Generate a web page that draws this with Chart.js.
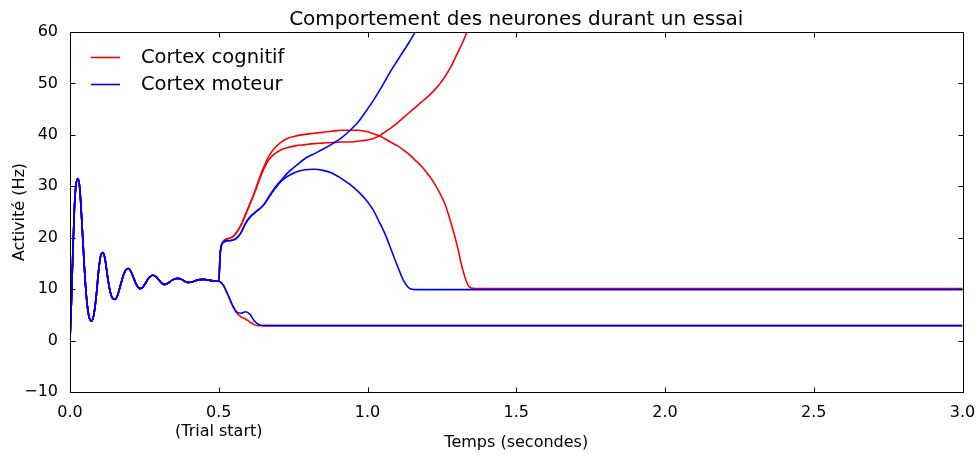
<!DOCTYPE html>
<html>
<head>
<meta charset="utf-8">
<script src="https://cdn.jsdelivr.net/npm/chart.js@4"></script>
<style>
  html, body { margin: 0; padding: 0; background: #fff; }
</style>
</head>
<body>
<canvas id="myChart" width="979" height="455"></canvas>
<script>
  const FONT = '"DejaVu Sans", sans-serif';

  // Before the trial starts every neuron follows the same damped oscillation
  const tPre = [0, 0.005, 0.01, 0.015, 0.02, 0.027, 0.033, 0.04, 0.048, 0.056,
    0.064, 0.072, 0.08, 0.088, 0.096, 0.104, 0.111, 0.118, 0.126, 0.134,
    0.142, 0.152, 0.16, 0.17, 0.18, 0.19, 0.197, 0.205, 0.215, 0.225,
    0.235, 0.245, 0.255, 0.265, 0.278, 0.29, 0.3, 0.31, 0.32, 0.33,
    0.345, 0.36, 0.375, 0.39, 0.4, 0.415, 0.43, 0.45, 0.47, 0.49];
  const vPre = [0, 8, 18, 26, 30.2, 31.5, 29.5, 23, 14.5, 8,
    4.6, 3.8, 5.0, 8.5, 13.5, 16.7, 17.1, 15.8, 12.5, 9.8,
    8.3, 8.0, 8.8, 10.8, 12.8, 13.9, 14.0, 13.4, 12.0, 10.7,
    10.1, 10.4, 11.3, 12.2, 12.7, 12.4, 11.7, 11.1, 10.9, 11.2,
    11.8, 12.1, 11.9, 11.4, 11.3, 11.5, 11.8, 11.9, 11.7, 11.6];

  // After trial start (0.5 s)
  const tPost = [0.5, 0.505, 0.515, 0.53, 0.545, 0.56, 0.575, 0.59, 0.605, 0.62,
    0.635, 0.65, 0.67, 0.69, 0.71, 0.73, 0.76, 0.79, 0.82, 0.85,
    0.88, 0.91, 0.94, 0.97, 1.0, 1.02, 1.04, 1.06, 1.08, 1.1,
    1.12, 1.14, 1.16, 1.18, 1.2, 1.22, 1.24, 1.26, 1.28, 1.3,
    1.32, 1.34, 1.36, 1.4, 3.0];

  const cogHigh = [11.6, 17.0, 19.2, 19.8, 20.1, 21.0, 22.5, 24.5, 26.6, 28.7,
    31.0, 33.2, 35.3, 36.4, 37.1, 37.5, 37.9, 38.1, 38.3, 38.4,
    38.5, 38.6, 38.6, 38.8, 39.0, 39.3, 39.8, 40.6, 41.4, 42.3,
    43.3, 44.3, 45.3, 46.3, 47.3, 48.4, 49.7, 51.3, 53.2, 55.6,
    58.0, 61.0, 66.0, null, null];
  const cogMid = [11.6, 17.0, 19.2, 19.8, 20.1, 21.0, 22.5, 24.5, 26.6, 28.8,
    31.3, 33.6, 36.0, 37.6, 38.6, 39.3, 39.8, 40.1, 40.3, 40.5,
    40.7, 40.9, 40.9, 40.9, 40.6, 40.2, 39.8, 39.2, 38.5, 37.9,
    37.1, 36.2, 35.1, 34.0, 32.6, 31.0, 29.0, 26.6, 23.0, 18.8,
    13.8, 10.6, 10.1, 10.1, 10.1];
  const cogLow = [11.6, 11.4, 10.8, 9.0, 7.0, 5.4, 4.6, 4.2, 3.6, 3.1,
    2.9, 2.9, 2.9, 2.9, 2.9, 2.9, 2.9, 2.9, 2.9, 2.9,
    2.9, 2.9, 2.9, 2.9, 2.9, 2.9, 2.9, 2.9, 2.9, 2.9,
    2.9, 2.9, 2.9, 2.9, 2.9, 2.9, 2.9, 2.9, 2.9, 2.9,
    2.9, 2.9, 2.9, 2.9, 2.9];

  const motHigh = [11.6, 17.0, 19.1, 19.4, 19.5, 19.9, 21.0, 22.8, 24.0, 24.8,
    25.5, 26.3, 28.1, 29.8, 31.2, 32.5, 34.0, 35.4, 36.3, 37.2,
    38.2, 39.3, 40.8, 42.6, 45.0, 46.7, 48.6, 50.6, 52.6, 54.4,
    56.2, 58.0, 60.0, 62.5, 65.0, null, null, null, null, null,
    null, null, null, null, null];
  const motMid = [11.6, 17.0, 19.1, 19.4, 19.5, 19.9, 21.0, 22.8, 24.0, 24.8,
    25.5, 26.3, 28.0, 29.6, 31.0, 31.9, 32.8, 33.2, 33.3, 33.1,
    32.6, 31.6, 30.4, 28.9, 27.0, 25.3, 23.0, 20.6, 17.6, 14.6,
    11.8, 10.2, 9.9, 9.9, 9.9, 9.9, 9.9, 9.9, 9.9, 9.9,
    9.9, 9.9, 9.9, 9.9, 9.9];
  const motLow = [11.6, 11.4, 10.8, 9.0, 7.0, 5.6, 5.3, 5.6, 5.1, 3.8,
    3.1, 2.9, 2.9, 2.9, 2.9, 2.9, 2.9, 2.9, 2.9, 2.9,
    2.9, 2.9, 2.9, 2.9, 2.9, 2.9, 2.9, 2.9, 2.9, 2.9,
    2.9, 2.9, 2.9, 2.9, 2.9, 2.9, 2.9, 2.9, 2.9, 2.9,
    2.9, 2.9, 2.9, 2.9, 2.9];

  const chartTitle = "Comportement des neurones durant un essai";
  const legendLabels = ["Cortex cognitif", "Cortex moteur"];
  const trialStart = 0.5;

  function series(values) {
    const pre = tPre.map((x, i) => ({ x: x, y: vPre[i] }));
    const post = tPost.map((x, i) => ({ x: x, y: values[i] }));
    return pre.concat(post);
  }

  function line(values, color) {
    return {
      data: series(values),
      borderColor: color,
      borderWidth: 1.6,
      pointRadius: 0,
      fill: false,
      cubicInterpolationMode: "monotone",
    };
  }

  // Box around the plot with inward ticks on every side, title over the plot
  // area and the legend inside it (classic matplotlib look)
  const frame = {
    id: "frame",
    afterDraw(chart) {
      const { ctx, chartArea: a, scales } = chart;
      const L = Math.round(a.left) + 0.5, R = Math.round(a.right) + 0.5;
      const T = Math.round(a.top) + 0.5, B = Math.round(a.bottom) + 0.5;
      ctx.save();
      ctx.strokeStyle = "#000";
      ctx.lineWidth = 1;
      ctx.beginPath();
      scales.x.ticks.forEach(function (t) {
        const px = Math.round(scales.x.getPixelForValue(t.value)) + 0.5;
        ctx.moveTo(px, B); ctx.lineTo(px, B - 5);
        ctx.moveTo(px, T); ctx.lineTo(px, T + 5);
      });
      scales.y.ticks.forEach(function (t) {
        const py = Math.round(scales.y.getPixelForValue(t.value)) + 0.5;
        ctx.moveTo(L, py); ctx.lineTo(L + 5, py);
        ctx.moveTo(R, py); ctx.lineTo(R - 5, py);
      });
      ctx.stroke();
      ctx.strokeRect(L, T, R - L, B - T);

      // title
      ctx.fillStyle = "#000";
      ctx.font = "20px " + FONT;
      ctx.textAlign = "center";
      ctx.textBaseline = "middle";
      ctx.fillText(chartTitle, (a.left + a.right) / 2, 19.5);

      // legend
      const colors = ["#ff0000", "#0000ff"];
      ctx.font = "19.5px " + FONT;
      ctx.textAlign = "left";
      legendLabels.forEach(function (label, i) {
        const y = 57.5 + i * 27;
        ctx.strokeStyle = colors[i];
        ctx.lineWidth = 1.6;
        ctx.beginPath();
        ctx.moveTo(91, y); ctx.lineTo(120, y);
        ctx.stroke();
        ctx.fillText(label, 141, y);
      });
      ctx.restore();
    },
  };

  const config = {
    type: "line",
    data: {
      datasets: [
        line(motLow, "#0000ff"),
        line(motMid, "#0000ff"),
        line(motHigh, "#0000ff"),
        line(cogLow, "#ff0000"),
        line(cogMid, "#ff0000"),
        line(cogHigh, "#ff0000"),
      ],
    },
    options: {
      responsive: false,
      animation: false,
      layout: { padding: { left: 0, right: 16.5, top: 32, bottom: 0 } },
      plugins: {
        legend: { display: false },
        tooltip: { enabled: false },
        title: { display: false },
      },
      scales: {
        x: {
          type: "linear",
          min: 0,
          max: 3,
          grid: { display: false },
          border: { display: false },
          ticks: {
            stepSize: 0.5,
            color: "#000",
            padding: 3,
            maxRotation: 0,
            autoSkip: false,
            font: { family: FONT, size: 16 },
            callback: function (v) {
              return v === trialStart ? [v.toFixed(1), "(Trial start)"] : v.toFixed(1);
            },
          },
          title: {
            display: true,
            text: "Temps (secondes)",
            color: "#000",
            font: { family: FONT, size: 16 },
            padding: { top: 0, bottom: 2.5 },
          },
          afterFit: function (s) { s.height = 63; },
        },
        y: {
          min: -10,
          max: 60,
          grid: { display: false },
          border: { display: false },
          ticks: {
            stepSize: 10,
            color: "#000",
            padding: 4,
            font: { family: FONT, size: 16 },
            callback: function (v) { return String(v).replace("-", "\u2212"); },
          },
          title: {
            display: true,
            text: "Activité (Hz)",
            color: "#000",
            font: { family: FONT, size: 16 },
            padding: { top: 10, bottom: 0 },
          },
          afterFit: function (s) { s.width = 70; },
        },
      },
    },
    plugins: [frame],
  };

  const myChart = new Chart(document.getElementById("myChart"), config);
</script>
</body>
</html>
